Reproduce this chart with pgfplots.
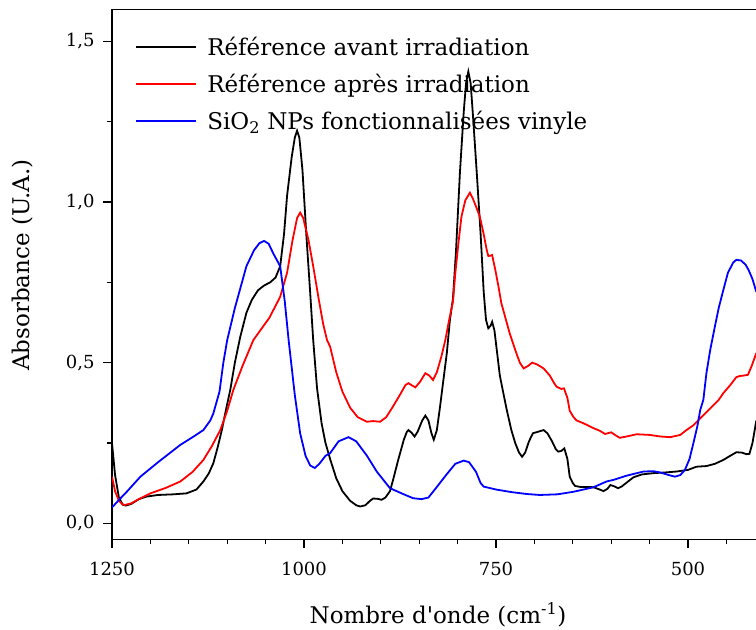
\documentclass[border=0pt]{standalone}
\usepackage{fontspec}
\setmainfont{DejaVu Serif}
\usepackage{pgfplots}
\pgfplotsset{compat=1.18}
\pgfplotsset{mylegend/.style={legend image code/.code={\draw[##1,line width=1.8pt] (0pt,0pt) -- (60pt,0pt); \path (68pt,0pt);}}}
\begin{document}
\begin{tikzpicture}[x=1pt,y=1pt]
\useasboundingbox (0,0) rectangle (756,630);
\clip (0,0) rectangle (756,630);
\begin{axis}[
  at={(112pt,90.7pt)}, anchor=south west,
  scale only axis, width=652.8pt, height=530pt,
  x dir=reverse, xmin=400, xmax=1250, ymin=-0.05, ymax=1.6,
  xtick={1250,1000,750,500}, minor xtick={1200,1150,1100,1050,950,900,850,800,700,650,600,550,450,400},
  ytick={0,0.5,1,1.5}, minor ytick={0.25,0.75,1.25},
  xtick pos=bottom, ytick pos=left, tick align=outside,
  major tick length=9pt, minor tick length=5pt,
  every tick/.style={black, line width=1.3pt},
  axis line style={line width=1.5pt},
  /pgf/number format/assume math mode=true,
  xticklabel style={/pgf/number format/1000 sep={}, font=\fontsize{18}{21}\selectfont, yshift=-10pt},
  yticklabel style={/pgf/number format/use comma, /pgf/number format/fixed, /pgf/number format/fixed zerofill, /pgf/number format/precision=1, font=\fontsize{18}{21}\selectfont, xshift=-5pt},
  mylegend,
  legend style={at={(axis description cs:0.0357,0.9515)}, anchor=north west, draw=none, fill=none,
     font=\fontsize{23}{27}\selectfont, row sep=13pt, inner sep=0pt},
  legend cell align=left,
]
\addplot[black, line width=1.8pt] coordinates {
(1250,0.25)(1246,0.15)(1241,0.08)(1236,0.058)(1232,0.055)(1225,0.06)(1215,0.075)(1205,0.083)(1190,0.088)(1170,0.09)(1153,0.093)(1140,0.105)(1131,0.13)(1124,0.155)(1118,0.187)(1112,0.24)(1107,0.29)(1101,0.36)(1096,0.415)(1090,0.50)(1083,0.58)(1075,0.655)(1068,0.695)(1060,0.725)(1052,0.74)(1044,0.75)(1037,0.765)(1031,0.80)(1026,0.90)(1022,1.02)(1016,1.14)(1012,1.20)(1009,1.222)(1006,1.20)(1002,1.10)(997,0.90)(992,0.72)(988,0.57)(983,0.42)(977,0.31)(972,0.25)(966,0.20)(958,0.14)(950,0.10)(940,0.07)(932,0.056)(927,0.052)(920,0.056)(914,0.07)(910,0.077)(904,0.076)(899,0.073)(894,0.08)(888,0.10)(884,0.135)(877,0.20)(870,0.26)(866,0.285)(864,0.29)(860,0.282)(856,0.27)(852,0.285)(846,0.32)(842,0.335)(838,0.32)(834,0.28)(831,0.26)(827,0.29)(823,0.36)(819,0.436)(814,0.53)(810,0.633)(806,0.70)(802,0.85)(797,1.09)(792,1.28)(789,1.37)(786,1.406)(783,1.37)(780,1.27)(775,1.09)(770,0.90)(766,0.72)(763,0.633)(760,0.607)(757,0.615)(755,0.627)(752,0.60)(749,0.54)(745,0.46)(740,0.40)(736,0.353)(730,0.29)(725,0.25)(720,0.22)(716,0.207)(712,0.22)(707,0.255)(702,0.28)(695,0.285)(688,0.29)(683,0.28)(677,0.255)(672,0.23)(669,0.223)(665,0.225)(661,0.233)(657,0.20)(654,0.145)(650,0.125)(647,0.116)(640,0.113)(630,0.113)(623,0.112)(615,0.105)(610,0.10)(605,0.107)(601,0.119)(596,0.115)(591,0.109)(586,0.115)(578,0.13)(571,0.143)(560,0.152)(545,0.156)(530,0.158)(515,0.161)(500,0.166)(489,0.176)(476,0.178)(465,0.185)(454,0.197)(445,0.21)(437,0.221)(430,0.22)(424,0.215)(420,0.216)(416,0.25)(411,0.32)
};
\addlegendentry{Référence avant irradiation}
\addplot[red, line width=1.8pt] coordinates {
(1250,0.145)(1246,0.10)(1241,0.07)(1236,0.058)(1233,0.057)(1225,0.062)(1215,0.075)(1200,0.093)(1180,0.11)(1161,0.13)(1145,0.16)(1131,0.197)(1120,0.24)(1109,0.29)(1100,0.35)(1092,0.415)(1080,0.49)(1066,0.57)(1057,0.60)(1045,0.64)(1031,0.705)(1022,0.78)(1015,0.88)(1009,0.95)(1005,0.967)(1001,0.95)(994,0.88)(988,0.80)(981,0.70)(975,0.62)(970,0.57)(966,0.55)(958,0.47)(950,0.41)(940,0.36)(930,0.33)(918,0.316)(910,0.318)(901,0.316)(893,0.33)(885,0.36)(875,0.40)(868,0.43)(864,0.436)(860,0.43)(855,0.423)(849,0.44)(842,0.467)(837,0.46)(832,0.446)(827,0.47)(821,0.52)(816,0.57)(811,0.633)(806,0.69)(803,0.778)(799,0.87)(795,0.954)(790,1.005)(784,1.029)(780,1.01)(775,0.98)(771,0.954)(766,0.90)(762,0.85)(760,0.832)(757,0.833)(755,0.835)(751,0.79)(747,0.74)(743,0.685)(737,0.633)(732,0.59)(725,0.54)(719,0.50)(714,0.482)(708,0.49)(703,0.50)(697,0.495)(688,0.482)(680,0.46)(674,0.435)(671,0.425)(665,0.418)(661.5,0.42)(657,0.39)(654,0.35)(649,0.33)(645,0.32)(635,0.31)(623,0.296)(615,0.288)(608,0.278)(603,0.281)(600,0.283)(595,0.275)(589,0.266)(580,0.27)(567,0.277)(550,0.275)(536,0.27)(523,0.268)(510,0.275)(502,0.29)(493,0.305)(484,0.327)(472,0.355)(460,0.384)(454,0.405)(445,0.43)(437,0.455)(433,0.458)(427,0.46)(422,0.462)(417,0.49)(411,0.53)
};
\addlegendentry{Référence après irradiation}
\addplot[blue, line width=1.8pt] coordinates {
(1250,0.049)(1240,0.075)(1230,0.10)(1213,0.145)(1190,0.19)(1161,0.244)(1145,0.268)(1131,0.29)(1122,0.32)(1118,0.342)(1110,0.41)(1105,0.50)(1100,0.57)(1090,0.67)(1075,0.80)(1065,0.85)(1058,0.872)(1052,0.879)(1046,0.87)(1040,0.84)(1031,0.80)(1025,0.69)(1020,0.57)(1012,0.40)(1005,0.28)(998,0.21)(992,0.18)(986,0.172)(980,0.185)(972,0.21)(966,0.218)(955,0.255)(942,0.268)(932,0.255)(918,0.21)(905,0.16)(895,0.13)(888,0.109)(870,0.09)(858,0.078)(847,0.075)(838,0.08)(828,0.11)(815,0.15)(803,0.185)(792,0.195)(785,0.19)(776,0.16)(770,0.125)(766,0.114)(750,0.105)(730,0.097)(710,0.091)(693,0.088)(670,0.09)(649,0.098)(623,0.112)(606,0.13)(597,0.135)(580,0.148)(558,0.161)(545,0.162)(536,0.158)(525,0.150)(517,0.145)(510,0.150)(504,0.166)(498,0.20)(493,0.249)(488,0.30)(484,0.353)(480,0.384)(476,0.467)(471,0.54)(465,0.612)(460,0.67)(454,0.726)(448,0.78)(441,0.812)(437,0.82)(431,0.818)(425,0.805)(421,0.788)(416,0.76)(411,0.72)
};
\addlegendentry{SiO\textsubscript{2} NPs fonctionnalisées vinyle}
\end{axis}
\node[font=\fontsize{23}{27}\selectfont] at (438,15) {Nombre d\textquotesingle onde (cm\textsuperscript{-1})};
\node[font=\fontsize{23}{27}\selectfont, rotate=90] at (23,365) {Absorbance (U.A.)};
\end{tikzpicture}
\end{document}
